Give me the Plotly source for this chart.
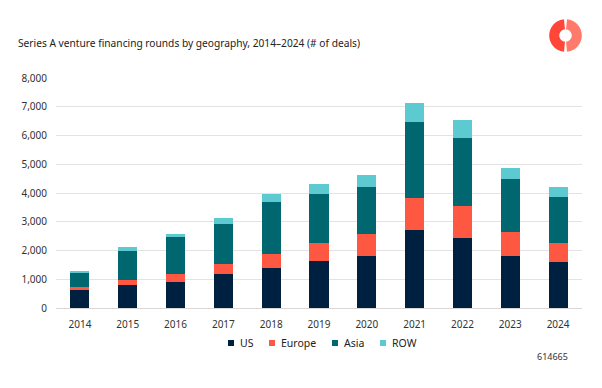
import numpy as np
import plotly.graph_objects as go

years = ["2014", "2015", "2016", "2017", "2018", "2019", "2020", "2021", "2022", "2023", "2024"]
us = [610, 790, 905, 1185, 1380, 1625, 1800, 2725, 2435, 1810, 1610]
europe = [130, 170, 290, 345, 500, 635, 775, 1100, 1125, 835, 650]
asia = [465, 1030, 1265, 1390, 1810, 1715, 1645, 2645, 2365, 1855, 1610]
row = [80, 130, 125, 220, 290, 335, 395, 650, 615, 370, 340]
y_ticks = [0, 1000, 2000, 3000, 4000, 5000, 6000, 7000, 8000]

series = [("US", us, "#00203F"), ("Europe", europe, "#FF5842"),
          ("Asia", asia, "#006670"), ("ROW", row, "#5CCAD0")]

FONT = "Noto Sans"
W, H = 602, 388
L, R, T, B = 56, 20, 78, 80
pw, ph = W - L - R, H - T - B

fig = go.Figure()
for name, vals, col in series:
    fig.add_trace(go.Bar(x=years, y=vals, name=name, marker=dict(color=col, line=dict(width=0)),
                         showlegend=False))

def px2paper(x, y):
    return (x - L) / pw, (H - B - y) / ph

# custom legend
legend_items = [("US", 228), ("Europe", 269), ("Asia", 332), ("ROW", 380)]
annotations = []
shapes = []
for (name, xpx), (_, _, col) in zip(legend_items, series):
    x0, y0 = px2paper(xpx, 340)
    x1, y1 = px2paper(xpx + 6, 346)
    shapes.append(dict(type="rect", xref="paper", yref="paper", x0=x0, x1=x1, y0=y1, y1=y0,
                       fillcolor=col, line=dict(width=0)))
    tx, ty = px2paper(xpx + 10, 343)
    annotations.append(dict(text=name, xref="paper", yref="paper", x=tx, y=ty,
                            xanchor="left", yanchor="middle", showarrow=False,
                            font=dict(family=FONT, size=10.5, color="#222")))

# source id
sx, sy = px2paper(570, 356)
annotations.append(dict(text="614665", xref="paper", yref="paper", x=sx, y=sy,
                        xanchor="right", yanchor="middle", showarrow=False,
                        font=dict(family=FONT, size=9, color="#333")))

# logo: two half annuli
cx, cy, ro, ri = 565.5, 35.5, 16.3, 6.2
for side, col in [(-1, "#FF4638"), (1, "#FF7A6A")]:
    th = np.linspace(np.pi / 2 + 0.09, 3 * np.pi / 2 - 0.09, 40) if side < 0 else np.linspace(-np.pi / 2 + 0.09, np.pi / 2 - 0.09, 40)
    xo = cx + ro * np.cos(th); yo = cy - ro * np.sin(th)
    xi = cx + ri * np.cos(th[::-1]); yi = cy - ri * np.sin(th[::-1])
    pts = [px2paper(a, b) for a, b in zip(np.concatenate([xo, xi]), np.concatenate([yo, yi]))]
    path = "M" + " L".join(f"{p[0]:.5f},{p[1]:.5f}" for p in pts) + " Z"
    shapes.append(dict(type="path", xref="paper", yref="paper", path=path,
                       fillcolor=col, line=dict(width=0)))

fig.update_layout(
    barmode="stack",
    width=W, height=H,
    margin=dict(l=L, r=R, t=T, b=B),
    paper_bgcolor="white", plot_bgcolor="white",
    bargap=0.6,
    font=dict(family=FONT, size=10, color="#333"),
    title=dict(text="Series A venture financing rounds by geography, 2014\u20132024 (# of deals)",
               xref="container", yref="container", x=18 / W, y=1 - 43 / H,
               xanchor="left", yanchor="middle",
               font=dict(family=FONT, size=10.2, color="#222")),
    xaxis=dict(showgrid=False, showline=False, ticks="", ticklabelstandoff=9,
               tickfont=dict(size=10, color="#333")),
    yaxis=dict(range=[0, 8000], tickvals=y_ticks, tickformat=",", showgrid=True,
               gridcolor="#e3e3e3", gridwidth=1, zeroline=True, zerolinecolor="#d8d8d8",
               zerolinewidth=1, showline=False, ticks="", ticklabelstandoff=8,
               tickfont=dict(size=10, color="#333")),
    annotations=annotations,
    shapes=shapes,
)

fig.write_html("out.html", config={"displayModeBar": False},
               post_script="document.body.style.margin='0';document.body.style.overflow='hidden';")
